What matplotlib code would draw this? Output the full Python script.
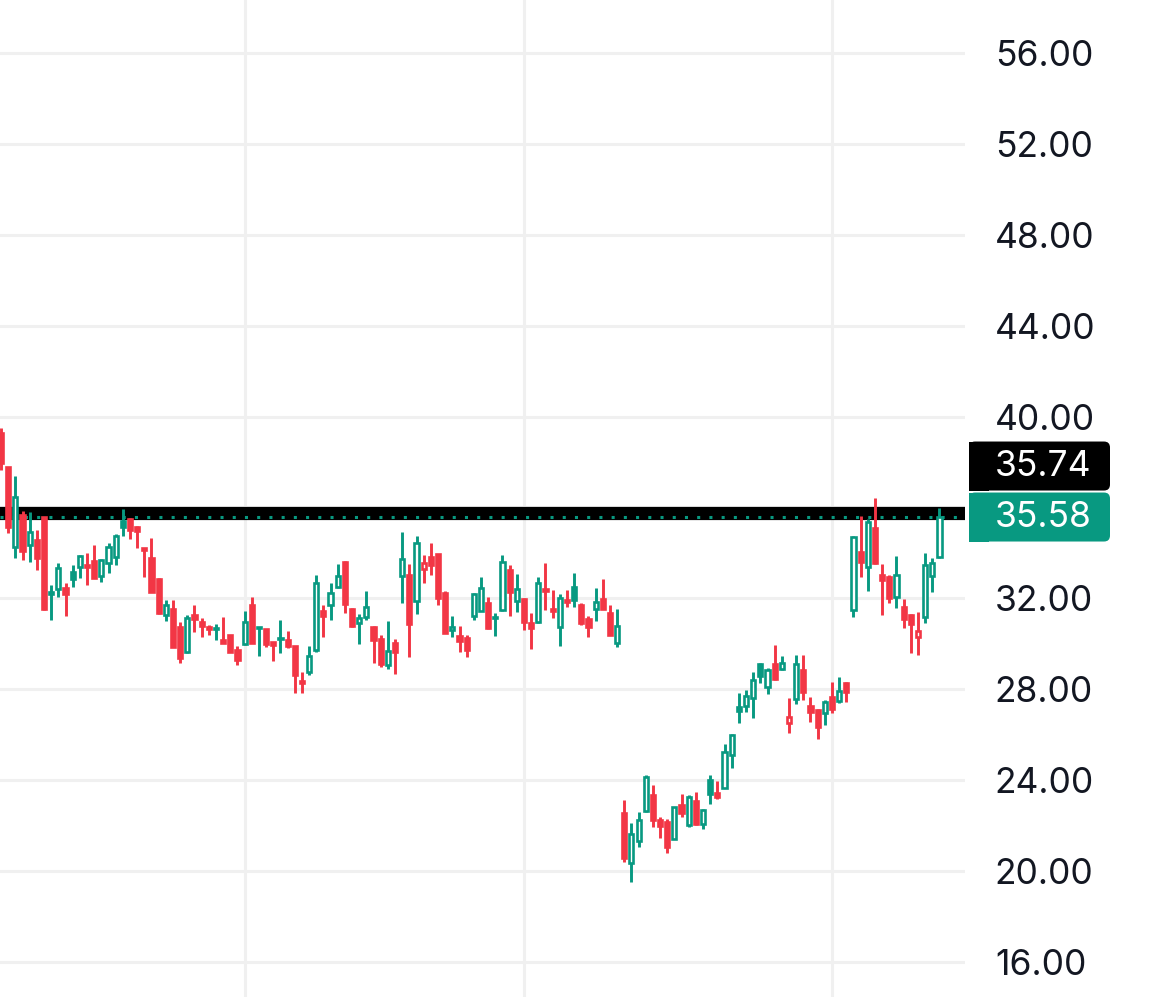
import numpy as np
import matplotlib.pyplot as plt
from matplotlib.patches import FancyBboxPatch, Rectangle
from matplotlib.transforms import IdentityTransform

plt.rcParams['font.family'] = ['Inter', 'DejaVu Sans']

# daily OHLC
opens = [
    39.28, 37.78, 34.26, 35.67, 34.35, 34.57, 35.58, 32.19, 32.41, 32.46,
    33.16, 33.38, 33.47, 33.65, 32.99, 33.56, 33.82, 35.41, 35.49, 35.14,
    34.22, 33.78, 32.85, 31.27, 31.53, 30.74, 29.64, 31.27, 30.96, 30.74,
    30.65, 30.17, 30.39, 29.73, 29.99, 31.71, 30.70, 30.65, 30.08, 30.21,
    30.17, 29.91, 28.37, 28.76, 29.73, 31.45, 31.71, 32.50, 33.60, 31.53,
    30.92, 31.18, 30.74, 30.21, 29.07, 30.04, 32.99, 33.03, 31.89, 33.29,
    33.82, 33.95, 32.24, 30.61, 30.35, 30.26, 31.23, 31.45, 31.80, 31.14,
    31.49, 33.25, 31.89, 31.97, 30.92, 30.96, 32.41, 31.53, 30.74, 31.93,
    32.50, 31.71, 31.09, 31.53, 31.97, 31.36, 30.04, 22.56, 20.36, 21.33,
    22.65, 23.35, 22.25, 22.16, 21.41, 22.91, 22.03, 23.09, 22.07, 24.01,
    23.44, 23.66, 25.11, 27.22, 27.27, 27.62, 29.11, 28.10, 29.11, 28.89,
    26.52, 27.57, 28.85, 27.27, 27.09, 26.96, 27.66, 27.49, 28.28, 31.49,
    34.04, 33.38, 35.10, 33.03, 32.94, 32.06, 31.62, 31.27, 30.30, 31.18,
    32.99, 33.82]
highs = [
    39.50, 37.78, 37.39, 35.85, 35.80, 35.01, 35.58, 32.59, 33.56, 32.68,
    33.47, 33.91, 33.99, 34.35, 33.73, 34.44, 34.83, 35.93, 35.54, 35.19,
    34.22, 34.66, 32.90, 31.93, 31.93, 30.96, 31.27, 31.71, 31.14, 30.83,
    30.87, 31.18, 30.39, 29.91, 31.45, 32.06, 30.74, 30.65, 30.08, 31.05,
    30.57, 29.91, 28.76, 29.91, 33.03, 31.71, 32.68, 33.51, 33.65, 31.58,
    31.31, 32.33, 30.79, 30.39, 31.01, 30.21, 34.92, 33.51, 34.75, 33.91,
    34.44, 33.95, 32.33, 31.23, 30.79, 30.39, 32.24, 32.94, 32.06, 31.36,
    33.91, 33.47, 33.07, 32.02, 31.36, 32.94, 33.56, 32.37, 32.19, 32.37,
    33.12, 31.80, 31.23, 32.46, 32.85, 31.71, 31.53, 23.13, 22.12, 22.60,
    24.23, 23.79, 22.38, 22.29, 22.82, 23.39, 23.35, 23.48, 22.73, 24.23,
    23.97, 25.59, 26.03, 27.84, 27.97, 28.76, 29.16, 28.94, 29.95, 29.47,
    27.62, 29.51, 29.51, 27.66, 27.13, 27.53, 28.32, 28.54, 28.32, 34.75,
    35.63, 35.49, 36.42, 33.51, 33.03, 33.87, 31.97, 31.31, 31.40, 33.99,
    33.78, 35.98]
lows = [
    37.65, 34.88, 33.78, 33.69, 33.60, 33.25, 31.49, 31.05, 32.06, 31.23,
    32.50, 32.90, 32.59, 32.90, 32.72, 33.12, 33.47, 34.75, 34.61, 34.22,
    32.94, 32.28, 31.31, 31.01, 29.86, 29.16, 29.60, 30.52, 30.30, 30.39,
    30.17, 30.04, 29.64, 29.07, 29.95, 30.04, 29.47, 29.86, 29.25, 29.60,
    29.82, 27.84, 27.84, 28.63, 29.64, 30.30, 31.05, 32.46, 31.36, 30.74,
    29.99, 31.05, 29.16, 28.98, 28.89, 28.67, 31.80, 29.42, 31.31, 32.68,
    33.03, 31.71, 30.48, 30.30, 29.64, 29.42, 31.05, 31.45, 30.65, 30.35,
    31.45, 31.23, 31.40, 30.61, 29.77, 30.92, 31.49, 31.14, 29.91, 31.62,
    31.62, 30.83, 30.30, 31.01, 31.53, 30.39, 29.86, 20.40, 19.52, 21.06,
    22.60, 21.94, 21.46, 20.80, 21.41, 22.38, 21.94, 22.03, 21.85, 22.95,
    23.17, 23.66, 24.54, 26.52, 27.00, 26.74, 28.28, 27.79, 28.41, 28.85,
    26.08, 27.35, 27.53, 26.56, 25.81, 26.43, 26.96, 27.40, 27.44, 31.18,
    32.94, 32.33, 33.51, 31.27, 31.80, 31.58, 30.70, 29.60, 29.51, 30.92,
    32.28, 33.78]
closes = [
    37.96, 35.14, 36.46, 34.09, 34.92, 33.78, 31.53, 32.28, 33.34, 32.19,
    32.85, 33.87, 33.38, 32.90, 33.69, 34.26, 34.75, 35.14, 35.01, 34.97,
    34.13, 32.28, 31.36, 31.71, 29.86, 29.38, 31.14, 31.09, 30.79, 30.65,
    30.70, 30.04, 29.64, 29.29, 30.96, 30.04, 30.74, 29.99, 29.95, 30.26,
    29.91, 28.63, 28.28, 29.47, 32.68, 31.23, 32.24, 32.99, 31.75, 30.79,
    31.14, 31.62, 30.17, 29.11, 29.69, 29.64, 33.73, 30.87, 34.44, 33.56,
    33.47, 32.02, 30.48, 30.74, 30.13, 29.73, 32.19, 32.46, 30.70, 31.18,
    33.60, 32.28, 32.41, 30.96, 30.70, 32.68, 32.33, 31.45, 32.02, 31.84,
    31.93, 30.92, 30.74, 31.84, 31.53, 30.39, 30.79, 20.58, 21.63, 22.25,
    24.14, 22.25, 21.99, 21.06, 22.82, 22.56, 23.26, 22.07, 22.69, 23.39,
    23.26, 25.24, 25.99, 27.05, 27.71, 28.41, 28.59, 28.85, 28.45, 29.16,
    26.78, 29.11, 27.88, 27.00, 26.34, 27.44, 27.13, 27.93, 27.88, 34.70,
    33.60, 35.36, 33.56, 32.81, 32.02, 33.03, 31.09, 30.87, 30.57, 33.47,
    33.56, 35.58]

price_ticks = [16, 20, 24, 28, 32, 36, 40, 44, 48, 52, 56]
month_starts = [34, 73, 116]   # candles where the vertical grid lines sit
alert_level = 35.74
last_price = closes[-1]

GREEN = '#089981'
RED = '#F23645'

o = np.array(opens)
c = np.array(closes)
h = np.array(highs)
l = np.array(lows)
x = np.arange(len(o))

# tradingview hollow candles: colour vs previous close, hollow when close > open
prev = np.concatenate([[o[0]], c[:-1]])
up = c >= prev
cols = np.where(up, GREEN, RED)
faces = np.where(c > o, 'white', cols)

fig = plt.figure(figsize=(11.7, 9.97), dpi=100)
ax = fig.add_axes([0, 0, 965 / 1170, 1])

for p in price_ticks:
    ax.axhline(p, color='#f0f0f0', lw=2.2, zorder=0)
for m in month_starts:
    ax.axvline(m, color='#f0f0f0', lw=2.2, zorder=0)

ax.axhline(alert_level, color='black', lw=9.5, zorder=1)
ax.axhline(last_price, color=GREEN, lw=2.2, ls=(0, (1, 3)), zorder=1.5)

ax.vlines(x, l, h, colors=cols, lw=2.1, zorder=2)
ax.bar(x, np.abs(c - o), bottom=np.minimum(o, c), width=0.58,
       color=faces, edgecolor=cols, linewidth=1.9, zorder=3)

ax.set_xlim(-0.15, -0.15 + 965 / 7.163)
ax.set_ylim(14.46, 58.33)
ax.set_xticks([])
ax.set_yticks(price_ticks)
# the 36.00 label sits under the price tags, so it is left blank
ax.set_yticklabels(['' if p == 36 else f'{p:.2f}' for p in price_ticks])
ax.yaxis.tick_right()
ax.tick_params(axis='y', length=0, pad=21.5, labelsize=25.5, labelcolor='#131722')
for s in ax.spines.values():
    s.set_visible(False)

# price tags on the scale
yc = ax.transData.transform((0, last_price))[1]
tag_h = 49
boxes = [(yc - tag_h / 2, GREEN, f'{last_price:.2f}'),
         (yc + tag_h / 2 + 2, 'black', f'{alert_level:.2f}')]
for y0, col, txt in boxes:
    fig.add_artist(FancyBboxPatch((969, y0), 141, tag_h,
                                  boxstyle='round,pad=0,rounding_size=6',
                                  fc=col, ec='none', transform=IdentityTransform(), zorder=5))
    fig.add_artist(Rectangle((969, y0), 20, tag_h, fc=col, ec='none',
                             transform=IdentityTransform(), zorder=5))
    fig.text(995, y0 + tag_h / 2, txt, color='white', fontsize=25.5, va='center',
             ha='left', transform=IdentityTransform(), zorder=6)

fig.savefig('out.png', dpi=100)
